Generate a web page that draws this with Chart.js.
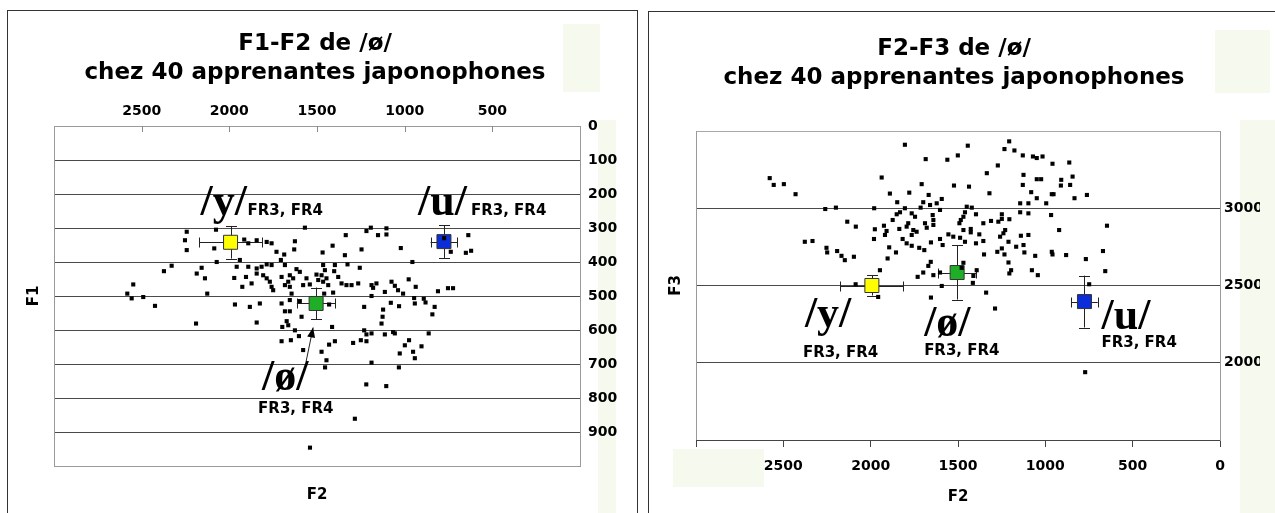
<!DOCTYPE html>
<html><head><meta charset="utf-8">
<script src="https://cdn.jsdelivr.net/npm/chart.js@4.4.1/dist/chart.umd.min.js"></script>
<style>
html,body{margin:0;padding:0;background:#fff;width:1275px;height:513px;overflow:hidden;position:relative;font-family:"DejaVu Sans",sans-serif;}
.panel{position:absolute;border:1.5px solid #333;box-sizing:border-box;}
.tint{position:absolute;background:#f6faee;}
.title{position:absolute;width:560px;font-weight:bold;font-size:23px;text-align:center;line-height:29px;white-space:nowrap;color:#000;font-family:"DejaVu Sans",sans-serif;}
canvas{position:absolute;top:0;}
</style></head><body>
<div class="tint" style="left:563px;top:24px;width:37px;height:68px"></div>
<div class="tint" style="left:598px;top:120px;width:18px;height:393px"></div>
<div class="tint" style="left:1215px;top:30px;width:55px;height:63px"></div>
<div class="tint" style="left:1240px;top:120px;width:35px;height:393px"></div>
<div class="tint" style="left:673px;top:449px;width:91px;height:38px"></div>
<div class="panel" style="left:7px;top:10px;width:631px;height:520px"></div>
<div class="panel" style="left:648px;top:11px;width:640px;height:520px"></div>
<canvas id="cL" width="640" height="513" style="left:0"></canvas>
<canvas id="cR" width="635" height="513" style="left:640px"></canvas>
<div class="title" style="left:35px;top:28px">F1-F2 de /ø/<br>chez 40 apprenantes japonophones</div>
<div class="title" style="left:674px;top:33px">F2-F3 de /ø/<br>chez 40 apprenantes japonophones</div>
<script>
// ---------- data ----------
const f2Left = [2243,2076,2253,2243,2086,2072,1915,1892,1844,1787,1759,1940,1958,1892,1844,1816,1787,1759,1807,1787,1769,1759,1750,1844,1905,1972,1873,1926,2158,2186,2139,2329,2373,2548,2582,2557,2491,2424,2126,1968,1883,1826,2190,1844,
1569,1218,1193,1152,1104,1104,1336,1626,1630,1687,1731,1468,1411,1341,1246,1022,956,775,737,1706,1683,1617,1598,1655,1636,1664,1702,1560,1579,1541,1683,1655,1465,1455,1474,1446,1465,1436,1493,1398,1402,1379,1360,1332,1303,1265,1326,1256,1503,1189,1161,1180,1113,1075,1056,1038,1009,977,937,810,753,724,1189,1123,1231,1079,1032,946,942,891,881,829,842,1126,1132,1231,1218,1189,1113,1066,1056,863,1414,1250,1218,1294,1398,1431,975,999,904,952,1028,942,1189,1446,1474,1579,1702,1649,1603,1626,1698,1664,1673,1588,1683,1655,1702,1655,1598,1645,1431,1459,1408,
1540,1284,1219,1105,1033,1454,651,637,621];
const f1Left = [311,305,336,365,360,400,334,345,336,341,345,394,414,414,419,414,407,409,439,448,458,473,483,434,444,447,463,473,417,434,448,411,427,466,493,507,503,529,493,525,532,522,581,578,
299,309,299,321,301,319,321,339,363,378,370,372,352,380,363,359,400,330,370,394,409,421,429,439,448,458,444,448,468,466,468,473,409,424,439,448,458,468,453,409,427,444,463,468,468,463,407,417,437,468,463,476,488,458,470,483,493,451,473,486,477,477,500,540,532,520,530,506,522,508,519,532,554,561,581,601,613,610,613,606,610,610,591,630,633,638,633,643,630,645,648,664,669,683,696,689,664,659,633,630,618,601,591,586,574,561,545,545,522,512,515,493,525,493,490,
946,861,760,765,710,710,373,321,367];

const f2Right = [1804,1685,2578,2555,2497,2430,1937,1708,1890,1779,1848,1668,1699,1660,1622,1593,2260,2199,1980,1804,1714,1603,1851,1832,1765,1746,1874,1645,2134,2085,1976,1924,1909,1918,1836,1785,1794,1756,1737,1765,1689,1679,1641,1641,1981,1817,1794,1765,1722,1693,1655,1603,1588,1894,1855,1903,2377,2333,2253,2249,2192,2167,2148,2096,1947,1656,1670,1699,1731,1641,1603,2086,1957,1655,1593,
1207,1444,1234,1177,1129,1071,1049,1016,1561,1501,1272,959,863,1335,1125,1049,1024,909,844,1523,1437,1129,911,858,1320,1081,1049,963,953,833,762,1144,1097,995,1450,1421,1460,1469,1397,1484,1492,1144,1097,967,1249,1249,1206,1355,1311,1269,647,921,1469,1427,1427,1555,1488,1460,1378,1355,1397,1230,1240,1259,1211,1140,1097,1167,1125,1120,1527,1275,1249,1234,1351,1058,963,959,881,768,670,1211,1196,1206,1077,1043,657,1469,1479,1393,1412,1415,1339,749,
1288,772];
const f3Right = [3411,3318,3195,3151,3156,3091,3199,3156,3095,3101,3039,3086,3039,3021,3032,3060,2995,3004,3000,3000,3004,2989,2961,2974,2967,2945,2924,2956,2913,2881,2864,2887,2853,2827,2866,2903,2881,2859,2848,2827,2903,2874,2892,2924,2801,2801,2773,2757,2744,2729,2779,2801,2762,2747,2714,2675,2783,2788,2744,2714,2723,2692,2664,2686,2599,2653,2627,2584,2556,2567,2584,2508,2426,2422,2497,
3433,3405,3383,3374,3342,3335,3325,3335,3314,3342,3277,3288,3296,3227,3216,3188,3188,3184,3205,3147,3140,3151,3147,3151,3097,3104,3065,3091,3091,3065,3086,3032,3032,3032,3010,3004,2974,2945,2961,2924,2903,2974,2967,2956,2961,2931,2929,2903,2918,2913,2887,2859,2859,2866,2844,2831,2809,2783,2831,2788,2773,2859,2838,2816,2783,2822,2827,2751,2762,2714,2816,2718,2740,2701,2701,2692,2718,2701,2697,2671,2723,2649,2599,2578,2599,2567,2593,2647,2614,2599,2562,2517,2454,2508,
2351,1939];

const vowelLabels = ['/y/', '/ø/', '/u/'];
const corpusLabel = 'FR3, FR4';
const meanColors = ['#ffff00', '#1faf26', '#0b2ed8'];
const meanF2 = [1993, 1505, 776];
const sdF2   = [180, 110, 76];
const meanF1 = [342, 522, 340];
const sdF1   = [48, 47, 48];
const meanF3 = [2500, 2584, 2396];
const sdF3   = [65, 175, 168];

const f2TickStep = 500;
const f1TickStep = 100;
const f3TickStep = 500;
const f3Labelled = [2000, 2500, 3000];

// ---------- helpers ----------
const FONT = '"DejaVu Sans", sans-serif';
const SERIF = '"Liberation Serif", "Times New Roman", serif';

const chartDecor = {
  id: 'chartDecor',
  beforeDatasetsDraw(chart, args, o) {
    const ctx = chart.ctx, a = chart.chartArea;
    const xs = chart.scales.x, ys = chart.scales.y;
    ctx.save();
    ctx.strokeStyle = '#9a9a9a'; ctx.lineWidth = 1;
    ctx.beginPath();
    const lx = Math.round(a.left) + 0.5;
    ctx.moveTo(lx, a.top); ctx.lineTo(lx, a.bottom); ctx.stroke();
    if (o.insideTicks) {
      ctx.strokeStyle = '#8a8a8a';
      for (let v = f2TickStep; v < 3000; v += f2TickStep) {
        const px = Math.round(xs.getPixelForValue(v)) + 0.5;
        ctx.beginPath(); ctx.moveTo(px, a.top); ctx.lineTo(px, a.top + 6); ctx.stroke();
      }
    }
    ctx.strokeStyle = '#222'; ctx.lineWidth = 1;
    for (let i = 0; i < meanF2.length; i++) {
      const my = o.meanY[i], sy = o.sdY[i];
      const cx = xs.getPixelForValue(meanF2[i]), cy = ys.getPixelForValue(my);
      const x1 = xs.getPixelForValue(meanF2[i] - sdF2[i]), x2 = xs.getPixelForValue(meanF2[i] + sdF2[i]);
      const y1 = ys.getPixelForValue(my - sy), y2 = ys.getPixelForValue(my + sy);
      const ry = Math.round(cy) + 0.5, rx = Math.round(cx) + 0.5;
      ctx.beginPath();
      ctx.moveTo(x1, ry); ctx.lineTo(x2, ry);
      ctx.moveTo(Math.round(x1) + 0.5, ry - 5); ctx.lineTo(Math.round(x1) + 0.5, ry + 5);
      ctx.moveTo(Math.round(x2) + 0.5, ry - 5); ctx.lineTo(Math.round(x2) + 0.5, ry + 5);
      ctx.moveTo(rx, y1); ctx.lineTo(rx, y2);
      ctx.moveTo(rx - 5.5, Math.round(y1) + 0.5); ctx.lineTo(rx + 5.5, Math.round(y1) + 0.5);
      ctx.moveTo(rx - 5.5, Math.round(y2) + 0.5); ctx.lineTo(rx + 5.5, Math.round(y2) + 0.5);
      ctx.stroke();
    }
    ctx.restore();
  },
  afterDatasetsDraw(chart, args, o) {
    const ctx = chart.ctx, a = chart.chartArea;
    const xs = chart.scales.x, ys = chart.scales.y;
    ctx.save();
    ctx.fillStyle = '#000';
    ctx.textBaseline = 'alphabetic';
    ctx.textAlign = 'left';
    for (let i = 0; i < meanF2.length; i++) {
      const cx = xs.getPixelForValue(meanF2[i]), cy = ys.getPixelForValue(o.meanY[i]);
      const p = o.annot[i];
      ctx.font = 'bold 44px ' + SERIF;
      ctx.fillText(vowelLabels[i], cx + p.big[0], cy + p.big[1]);
      ctx.font = 'bold 15px ' + FONT;
      ctx.fillText(corpusLabel, cx + p.sub[0], cy + p.sub[1]);
      if (p.arrow) {
        const tx = cx + p.arrow[0], ty = cy + p.arrow[1], hx = cx + p.arrow[2], hy = cy + p.arrow[3];
        ctx.strokeStyle = '#222'; ctx.lineWidth = 1;
        ctx.beginPath(); ctx.moveTo(tx, ty); ctx.lineTo(hx, hy); ctx.stroke();
        const ang = Math.atan2(hy - ty, hx - tx), L = 10, W = 4;
        ctx.beginPath();
        ctx.moveTo(hx, hy);
        ctx.lineTo(hx - L * Math.cos(ang) + W * Math.sin(ang), hy - L * Math.sin(ang) - W * Math.cos(ang));
        ctx.lineTo(hx - L * Math.cos(ang) - W * Math.sin(ang), hy - L * Math.sin(ang) + W * Math.cos(ang));
        ctx.closePath(); ctx.fill();
      }
    }
    ctx.font = 'bold 15px ' + FONT;
    ctx.textAlign = 'center'; ctx.textBaseline = 'middle';
    ctx.fillText(o.xTitle, (a.left + a.right) / 2, o.xTitleY);
    ctx.translate(a.left - 20, (a.top + a.bottom) / 2);
    ctx.rotate(-Math.PI / 2);
    ctx.fillText(o.yTitle, 0, 0);
    ctx.restore();
  }
};

const tickFont = { family: FONT, size: 14, weight: 'bold' };

function scatterSet(xs, ys) { return xs.map((v, i) => ({ x: v, y: ys[i] })); }

// ---------- left chart: F1-F2 ----------
new Chart(document.getElementById('cL'), {
  type: 'scatter',
  data: { datasets: [
    { label: 'tokens', data: scatterSet(f2Left, f1Left), pointStyle: 'rect', pointRadius: 2.9, pointHoverRadius: 2.9, backgroundColor: '#000', borderWidth: 0 },
    { label: 'means', data: scatterSet(meanF2, meanF1), pointStyle: 'rect', pointRadius: 9.9, pointHoverRadius: 9.9, backgroundColor: meanColors, borderColor: '#333', borderWidth: 1 }
  ]},
  options: {
    responsive: false, animation: false, events: [], devicePixelRatio: 1,
    layout: { padding: { left: 54, right: 20, top: 96, bottom: 47 } },
    plugins: { legend: { display: false }, tooltip: { enabled: false },
      chartDecor: { insideTicks: true, meanY: meanF1, sdY: sdF1, xTitle: 'F2', yTitle: 'F1', xTitleY: 495,
        annot: [ { big: [-30, -27], sub: [17, -27] },
                 { big: [-54, 87], sub: [-58, 110], arrow: [-10, 58, -3, 24] },
                 { big: [-26, -27], sub: [27, -27] } ] } },
    scales: {
      x: { type: 'linear', position: 'top', reverse: true, min: 0, max: 3000,
        ticks: { stepSize: f2TickStep, autoSkip: false, maxRotation: 0, padding: 6, color: '#000', font: tickFont,
          callback: v => (v === 0 || v === 3000) ? '' : String(v) },
        grid: { drawOnChartArea: false, drawTicks: false },
        border: { color: '#9a9a9a' },
        afterFit: s => { s.height = 30; } },
      y: { type: 'linear', position: 'right', reverse: true, min: 0, max: 1000,
        ticks: { stepSize: f1TickStep, autoSkip: false, padding: 8, color: '#000', font: tickFont,
          callback: v => v === 1000 ? '' : String(v) },
        grid: { drawTicks: false, color: c => (c.tick && (c.tick.value === 0 || c.tick.value === 1000)) ? '#9a9a9a' : '#4a4a4a' },
        border: { color: '#9a9a9a' },
        afterFit: s => { s.width = 40; } }
    }
  },
  plugins: [chartDecor]
});

// ---------- right chart: F2-F3 ----------
new Chart(document.getElementById('cR'), {
  type: 'scatter',
  data: { datasets: [
    { label: 'tokens', data: scatterSet(f2Right, f3Right), pointStyle: 'rect', pointRadius: 2.9, pointHoverRadius: 2.9, backgroundColor: '#000', borderWidth: 0 },
    { label: 'means', data: scatterSet(meanF2, meanF3), pointStyle: 'rect', pointRadius: 9.9, pointHoverRadius: 9.9, backgroundColor: meanColors, borderColor: '#333', borderWidth: 1 }
  ]},
  options: {
    responsive: false, animation: false, events: [], devicePixelRatio: 1,
    layout: { padding: { left: 56, right: 15, top: 131, bottom: 35 } },
    plugins: { legend: { display: false }, tooltip: { enabled: false },
      chartDecor: { insideTicks: false, meanY: meanF3, sdY: sdF3, xTitle: 'F2', yTitle: 'F3', xTitleY: 497,
        annot: [ { big: [-67, 41], sub: [-69, 71] },
                 { big: [-33, 63], sub: [-33, 82] },
                 { big: [17, 27], sub: [17, 45] } ] } },
    scales: {
      x: { type: 'linear', position: 'bottom', reverse: true, min: 0, max: 3000,
        ticks: { stepSize: f2TickStep, autoSkip: false, maxRotation: 0, padding: 11, color: '#000', font: tickFont,
          callback: v => v === 3000 ? '' : String(v) },
        grid: { drawOnChartArea: false, drawTicks: true, tickLength: 7, tickColor: '#444' },
        border: { color: '#444' },
        afterFit: s => { s.height = 38; } },
      y: { type: 'linear', position: 'right', min: 1500, max: 3500,
        ticks: { stepSize: f3TickStep, autoSkip: false, padding: 4, color: '#000', font: tickFont,
          callback: v => f3Labelled.includes(v) ? String(v) : '' },
        grid: { drawTicks: false, color: c => (c.tick && c.tick.value === 3500) ? '#a8a8a8' : '#4a4a4a' },
        border: { color: '#9a9a9a' },
        afterFit: s => { s.width = 40; } }
    }
  },
  plugins: [chartDecor]
});
</script>
</body></html>
